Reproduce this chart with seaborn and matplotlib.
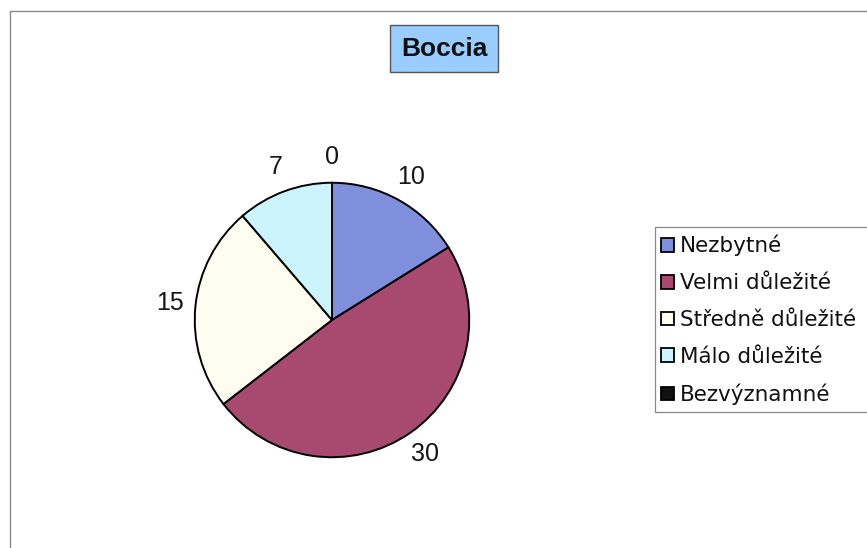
import matplotlib
matplotlib.use("Agg")
import matplotlib.pyplot as plt
from matplotlib.patches import Patch, Rectangle
from matplotlib.lines import Line2D
import seaborn as sns

categories = ["Nezbytné", "Velmi důležité", "Středně důležité", "Málo důležité", "Bezvýznamné"]
values = [10, 30, 15, 7, 0]
colors = ["#7F8FDC", "#A8496F", "#FFFDF0", "#CCF4FF", "#111111"]
title = "Boccia"

sns.set_style("white")
plt.rcParams['font.family'] = ['Liberation Sans', 'DejaVu Sans']

W, H = 867, 548
fig = plt.figure(figsize=(W / 100, H / 100), dpi=100)
fig.patch.set_facecolor("white")

cx, cy, r = 332 / W, 1 - 320 / H, 140
w, h = 2 * r / W, 2 * r / H
ax = fig.add_axes([cx - w / 2, cy - h / 2, w, h])
wedges, texts = ax.pie(
    values, colors=colors, startangle=90, counterclock=False,
    wedgeprops=dict(edgecolor="black", linewidth=1.4),
    labels=[str(v) for v in values], labeldistance=1.19,
    textprops=dict(fontsize=18, color="#151515"),
)
for t in texts:
    t.set_ha("center")
    t.set_va("center")
ax.set_xlim(-1.02, 1.02)
ax.set_ylim(-1.02, 1.02)
ax.set_aspect("equal")
ax.axis("off")

fig.text(444 / W, 1 - 48.5 / H, title, ha="center", va="center",
         fontsize=19, fontweight="bold", color="#111111",
         bbox=dict(boxstyle="square,pad=0.42", facecolor="#99CCFF", edgecolor="#555555", linewidth=1))

handles = [Patch(facecolor=c, edgecolor="black", linewidth=1.3) for c in colors]
leg = fig.legend(handles, categories, loc="upper left",
                 bbox_to_anchor=(661 / W, 1 - 235 / H),
                 frameon=False, prop=dict(family="DejaVu Sans", size=15.5),
                 handlelength=0.6, handleheight=0.6,
                 handletextpad=0.3, labelspacing=0.78, borderpad=0,
                 borderaxespad=0)
for txt in leg.get_texts():
    txt.set_color("#111111")

# legend frame (extends past the right edge)
fig.add_artist(Rectangle((655 / W, 1 - 412 / H), (W + 5 - 655) / W, (412 - 227) / H,
                         transform=fig.transFigure, fill=False,
                         edgecolor="#888888", linewidth=0.9))

# outer chart border (left and top edges visible)
fig.add_artist(Line2D([10 / W, 10 / W], [0, 1 - 11 / H], transform=fig.transFigure,
                      color="#888888", linewidth=1.0))
fig.add_artist(Line2D([10 / W, 1], [1 - 11 / H, 1 - 11 / H], transform=fig.transFigure,
                      color="#888888", linewidth=1.0))

fig.savefig("out.png", dpi=100)
